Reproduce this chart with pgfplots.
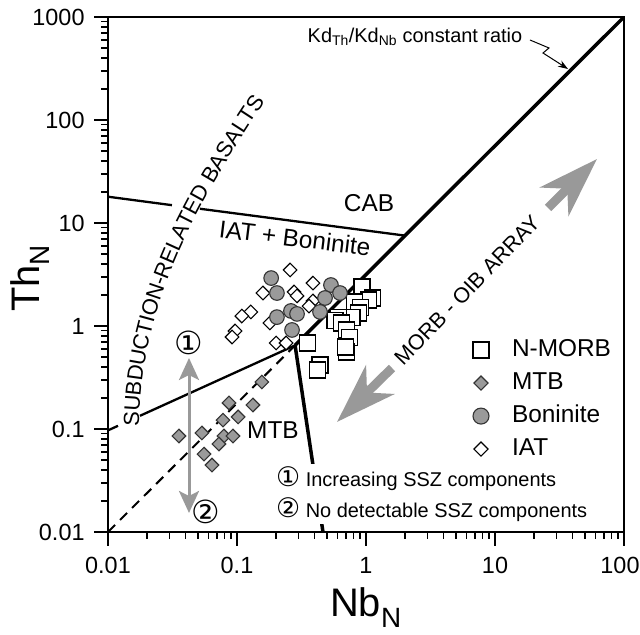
\documentclass[border=0pt]{standalone}
\usepackage{pgfplots}
\pgfplotsset{compat=1.18}
\usepackage{fontspec}
\setmainfont{Liberation Sans}
\newfontfamily\dejavu{DejaVu Sans}
\usetikzlibrary{arrows.meta,decorations.text}
\definecolor{mgray}{HTML}{9A9A9A}
\definecolor{agray}{HTML}{999999}
\newcommand{\fs}[1]{\fontsize{#1}{#1}\selectfont}
\begin{document}
\begin{tikzpicture}
\begin{axis}[
  at={(108bp,103bp)}, anchor=south west,
  scale only axis, width=516bp, height=515bp,
  xmode=log, ymode=log,
  xmin=0.01, xmax=100, ymin=0.01, ymax=1000,
  xtick={0.01,0.1,1,10,100}, xticklabels={0.01,0.1,1,10,{\hspace*{-8bp}100}},
  ytick={0.01,0.1,1,10,100,1000}, yticklabels={0.01,0.1,1,10,100,1000},
  minor xtick={0.02,0.03,0.04,0.05,0.06,0.07,0.08,0.09,0.2,0.3,0.4,0.5,0.6,0.7,0.8,0.9,2,3,4,5,6,7,8,9,20,30,40,50,60,70,80,90},
  minor ytick={0.02,0.03,0.04,0.05,0.06,0.07,0.08,0.09,0.2,0.3,0.4,0.5,0.6,0.7,0.8,0.9,2,3,4,5,6,7,8,9,20,30,40,50,60,70,80,90,200,300,400,500,600,700,800,900},
  tick align=outside, tick pos=left,
  major tick length=14bp, minor tick length=7bp,
  every major tick/.style={black, line width=1.8bp},
  every minor tick/.style={black, line width=1.4bp},
  axis line style={line width=2.2bp},
  tick label style={font=\fs{23.5}},
  xticklabel style={yshift=-8bp},
  yticklabel style={xshift=-6bp},
  legend style={draw=none, fill=none, at={(rel axis cs:0.707,0.375)}, anchor=north west,
    font=\fs{24.5}, row sep=11bp, inner sep=0pt,
    nodes={inner sep=0pt, text height=17bp, text depth=5bp},
    /tikz/every odd column/.append style={column sep=23bp}},
  legend cell align=left,
]
% boundary lines
\addplot[line width=2bp, dash pattern=on 10bp off 7bp, forget plot] coordinates {(0.01,0.01)(0.282,0.649)};
\addplot[line width=3.5bp, forget plot] coordinates {(0.282,0.649)(100,1000)};
\addplot[line width=3.5bp, forget plot] coordinates {(0.282,0.649)(0.464,0.01)};
\addplot[line width=2.3bp, forget plot] coordinates {(0.01,0.097)(0.01196,0.1074)};
\addplot[line width=2.3bp, forget plot] coordinates {(0.0177,0.1343)(0.282,0.649)};
\addplot[line width=2.3bp, forget plot] coordinates {(0.01,18)(0.0313,14.9)};
\addplot[line width=2.3bp, forget plot] coordinates {(0.0516,13.75)(2.0,7.55)};
% IAT
\addplot[only marks, forget plot, mark=square*, mark size=4.8bp, mark options={rotate=45, fill=white, draw=black, line width=1.1bp}] coordinates {
(0.258,3.50)(0.388,2.61)(0.159,2.09)(0.277,2.14)(0.292,1.96)(0.388,1.75)(0.362,1.56)(0.128,1.37)(0.109,1.25)(0.0965,0.894)(0.0915,0.782)(0.180,1.07)(0.201,0.684)(0.240,0.684)};
% N-MORB
\addplot[only marks, forget plot, mark=square*, mark size=8bp, mark options={fill=white, draw=black, line width=1.2bp}] coordinates {
(0.93,2.39)(1.13,1.87)(1.04,1.79)(0.82,1.71)(0.90,1.50)(0.87,1.34)(0.78,1.22)(0.61,1.22)(0.575,1.14)(0.65,1.07)(0.71,0.915)(0.75,0.78)(0.71,0.56)(0.69,0.625)(0.35,0.684)(0.44,0.418)(0.42,0.374)};
% MTB
\addplot[only marks, forget plot, mark=square*, mark size=4.8bp, mark options={rotate=45, fill=mgray, draw=black!80, line width=1.1bp}] coordinates {
(0.0355,0.0855)(0.0535,0.0915)(0.0555,0.0571)(0.064,0.0447)(0.0779,0.122)(0.0867,0.179)(0.102,0.131)(0.0793,0.0855)(0.0725,0.0715)(0.0931,0.0855)(0.133,0.171)(0.156,0.286)};
% Boninite
\addplot[only marks, forget plot, mark=*, mark size=7.3bp, mark options={fill=mgray, draw=black!80, line width=1.1bp}] coordinates {
(0.184,2.92)(0.204,2.09)(0.204,1.22)(0.262,1.40)(0.292,1.31)(0.267,0.915)(0.535,2.50)(0.629,2.09)(0.481,1.87)(0.440,1.37)};
% legend
\addlegendimage{only marks, mark=square*, mark size=8bp, mark options={fill=white, draw=black, line width=1.2bp}}
\addlegendentry{N-MORB}
\addlegendimage{only marks, mark=square*, mark size=5bp, mark options={rotate=45, fill=mgray, draw=black!80, line width=1.1bp}}
\addlegendentry{MTB}
\addlegendimage{only marks, mark=*, mark size=8bp, mark options={fill=mgray, draw=black!80, line width=1.1bp}}
\addlegendentry{Boninite}
\addlegendimage{only marks, mark=square*, mark size=5bp, mark options={rotate=45, fill=white, draw=black, line width=1.1bp}}
\addlegendentry{IAT}
\end{axis}
\begin{scope}[x=1bp,y=-1bp,shift={(0,635bp)}]
\node[rotate=90, font=\fs{40}] at (30,278) {Th\textsubscript{N}};
\node[anchor=base, font=\fs{40}] at (366,617) {Nb\textsubscript{N}};
\node[font=\fs{24.5}] at (369,203) {CAB};
\node[rotate=-7, font=\fs{24.5}] at (295,238) {IAT + Boninite};
\node[font=\fs{24.5}] at (273,430) {MTB};
\node[rotate=46, font=\fs{21.5}] at (467,290) {MORB - OIB ARRAY};
\node[font=\fs{20}] at (415,37) {Kd\textsubscript{Th}/Kd\textsubscript{Nb} constant ratio};
\draw[line width=1bp, -{Stealth[length=10bp,width=7bp]}] (530,40) -- (549,48) -- (543,53) -- (568,69);
\node[fill=white, anchor=north west, inner sep=2bp, align=left, font=\fontsize{20}{32}\selectfont] at (274,464)
  {{\dejavu\fs{27}①} Increasing SSZ components\\{\dejavu\fs{27}②} No detectable SSZ components};
\draw[agray, line width=9bp, -{Stealth[length=60bp,width=40bp,inset=18bp]}] (392,368) -- (337,422);
\draw[agray, line width=9bp, -{Stealth[length=60bp,width=40bp,inset=18bp]}] (548,208) -- (597,159);
\draw[agray, line width=3bp, {Stealth[length=22bp,width=20bp,inset=5bp]}-{Stealth[length=22bp,width=20bp,inset=5bp]}] (189,358) -- (189,513);
\node[font=\dejavu\fs{32}] at (189,343) {①};
\node[font=\dejavu\fs{32}] at (206,512) {②};
\path[decorate, decoration={text along path, text={|\fs{22}|SUBDUCTION-RELATED BASALTS}, text align=center, raise=-8bp}]
  (131,432) .. controls (131,300) and (190,200) .. (262,92);
\end{scope}
\pgfresetboundingbox
\useasboundingbox (0,0) rectangle (640bp,635bp);
\end{tikzpicture}
\end{document}
